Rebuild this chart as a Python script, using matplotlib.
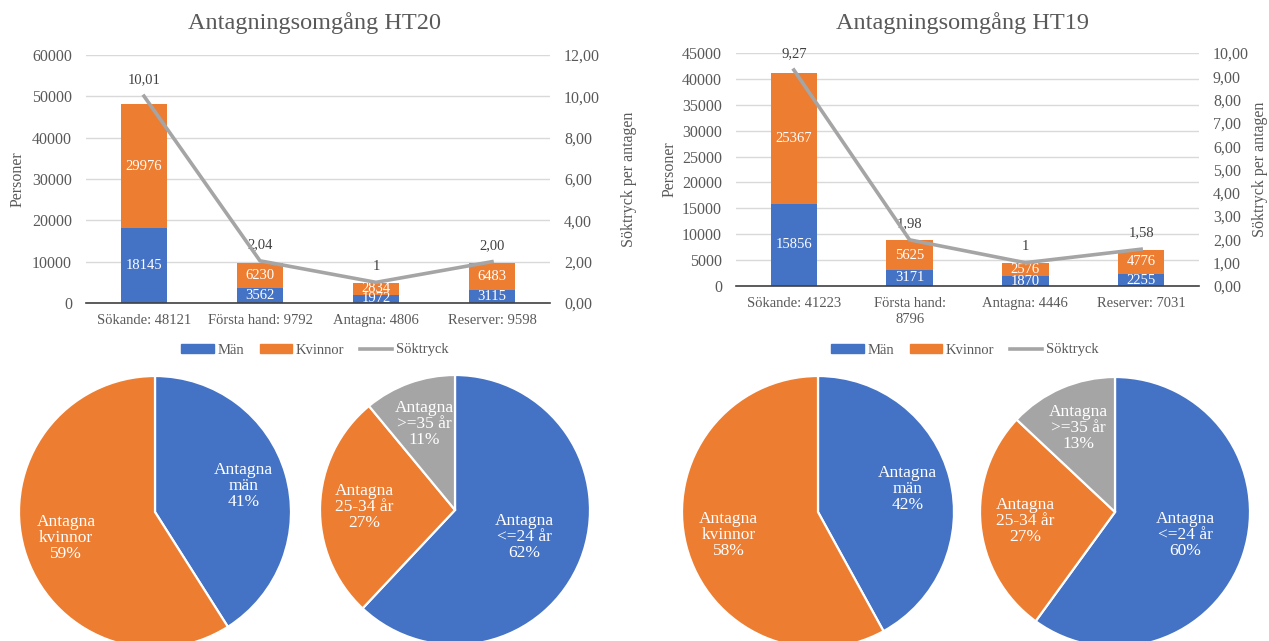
import matplotlib.pyplot as plt
from matplotlib.patches import Patch
from matplotlib.lines import Line2D
import numpy as np

plt.rcParams['font.family'] = ['Liberation Serif', 'DejaVu Serif']

BLUE = "#4472C4"
ORANGE = "#ED7D31"
GREY = "#A5A5A5"
TXT = "#595959"

# data
cats_ht20 = ["Sökande: 48121", "Första hand: 9792", "Antagna: 4806", "Reserver: 9598"]
man_ht20 = [18145, 3562, 1972, 3115]
kvinnor_ht20 = [29976, 6230, 2834, 6483]
tryck_ht20 = [10.01, 2.04, 1, 2.00]
tryck_lbl_ht20 = ["10,01", "2,04", "1", "2,00"]

cats_ht19 = ["Sökande: 41223", "Första hand:\n8796", "Antagna: 4446", "Reserver: 7031"]
man_ht19 = [15856, 3171, 1870, 2255]
kvinnor_ht19 = [25367, 5625, 2576, 4776]
tryck_ht19 = [9.27, 1.98, 1, 1.58]
tryck_lbl_ht19 = ["9,27", "1,98", "1", "1,58"]

kon_labels = ["Antagna\nmän", "Antagna\nkvinnor"]
kon_ht20 = [41, 59]
kon_ht19 = [42, 58]
alder_labels = ["Antagna\n<=24 år", "Antagna\n25-34 år", "Antagna\n>=35 år"]
alder_ht20 = [62, 27, 11]
alder_ht19 = [60, 27, 13]

W, H = 1269, 641
fig = plt.figure(figsize=(W / 100, H / 100), dpi=100)


def px_axes(x0, y0, x1, y1):
    # pixel box (top-left origin) -> figure axes
    return fig.add_axes([x0 / W, (H - y1) / H, (x1 - x0) / W, (y1 - y0) / H])


def bar_chart(box, cats, man, kvinnor, tryck, tryck_lbl, ymax, ystep, rmax, rstep,
              title, title_x, legend_x, lpad, rpad):
    ax = px_axes(*box)
    x = np.arange(len(cats))
    ax.bar(x, man, 0.4, color=BLUE, zorder=2)
    ax.bar(x, kvinnor, 0.4, bottom=man, color=ORANGE, zorder=2)
    for i in range(len(cats)):
        ax.text(x[i], man[i] / 2, str(man[i]), color="white", ha="center", va="center", fontsize=10.5, zorder=3)
        ax.text(x[i], man[i] + kvinnor[i] / 2, str(kvinnor[i]), color="white", ha="center", va="center",
                fontsize=10.5, zorder=3)
    ax.set_xlim(-0.5, len(cats) - 0.5)
    ax.set_ylim(0, ymax)
    ax.set_yticks(np.arange(0, ymax + 1, ystep))
    ax.set_xticks(x)
    ax.set_xticklabels(cats, fontsize=10.5, color=TXT, linespacing=1.3)
    ax.tick_params(axis="y", length=0, labelsize=11.5, labelcolor=TXT, pad=10)
    ax.tick_params(axis="x", length=0, labelsize=10.5, labelcolor=TXT, pad=8)
    ax.grid(axis="y", color="#D9D9D9", linewidth=1, zorder=0)
    for s in ["top", "left", "right"]:
        ax.spines[s].set_visible(False)
    ax.spines["bottom"].set_color("#404040")
    ax.spines["bottom"].set_linewidth(1.2)
    ax.spines["bottom"].set_zorder(4)
    ax.set_ylabel("Personer", fontsize=11.5, color=TXT, labelpad=lpad)

    ax2 = ax.twinx()
    ax2.plot(x, tryck, color=GREY, linewidth=2.6, zorder=5)
    for i in range(len(cats)):
        ax2.annotate(tryck_lbl[i], (x[i], tryck[i]), xytext=(0, 7), textcoords="offset points",
                     ha="center", va="bottom", fontsize=10.5, color="#404040")
    ax2.set_ylim(0, rmax)
    rt = np.arange(0, rmax + 0.001, rstep)
    ax2.set_yticks(rt)
    ax2.set_yticklabels([f"{v:.2f}".replace(".", ",") for v in rt])
    ax2.tick_params(axis="y", length=0, labelsize=11.5, labelcolor=TXT, pad=10)
    for s in ax2.spines.values():
        s.set_visible(False)
    ax2.set_ylabel("Söktryck per antagen", fontsize=11.5, color=TXT, labelpad=rpad)

    fig.text(title_x / W, 1 - 23 / H, title, ha="center", va="center", fontsize=17.5, color=TXT)
    handles = [Patch(color=BLUE), Patch(color=ORANGE), Line2D([0], [0], color=GREY, linewidth=2.6)]
    fig.legend(handles, ["Män", "Kvinnor", "Söktryck"], loc="center", bbox_to_anchor=(legend_x / W, 1 - 350 / H),
               ncol=3, frameon=False, fontsize=10.5, labelcolor=TXT, handlelength=2.2, handleheight=0.55,
               columnspacing=1.1, handletextpad=0.25)


def pie_chart(cx, cy, r, values, labels, colors, dists):
    ax = px_axes(cx - r, cy - r, cx + r, cy + r)
    wedges, _ = ax.pie(values, colors=colors, startangle=90, counterclock=False, radius=1,
                       wedgeprops=dict(edgecolor="white", linewidth=1.6))
    for w, lab, v, d in zip(wedges, labels, values, dists):
        ang = np.deg2rad((w.theta1 + w.theta2) / 2)
        ax.text(d * np.cos(ang), d * np.sin(ang), f"{lab}\n{v}%", color="white", ha="center", va="center",
                fontsize=12.5, linespacing=1.0)
    ax.set_xlim(-1, 1)
    ax.set_ylim(-1, 1)
    ax.axis("off")


bar_chart((86, 55, 550, 303), cats_ht20, man_ht20, kvinnor_ht20, tryck_ht20, tryck_lbl_ht20,
          60000, 10000, 12, 2, "Antagningsomgång HT20", 315, 315, 5, 15)
bar_chart((736, 53, 1199, 286), cats_ht19, man_ht19, kvinnor_ht19, tryck_ht19, tryck_lbl_ht19,
          45000, 5000, 10, 1, "Antagningsomgång HT19", 962, 965, 3, 2)

pie_chart(155, 512, 136, kon_ht20, kon_labels, [BLUE, ORANGE], [0.68, 0.68])
pie_chart(455, 510, 135, alder_ht20, alder_labels, [BLUE, ORANGE, GREY], [0.55, 0.67, 0.68])
pie_chart(818, 512, 136, kon_ht19, kon_labels, [BLUE, ORANGE], [0.68, 0.68])
pie_chart(1115, 512, 135, alder_ht19, alder_labels, [BLUE, ORANGE, GREY], [0.55, 0.67, 0.68])

fig.savefig("out.png", dpi=100)
